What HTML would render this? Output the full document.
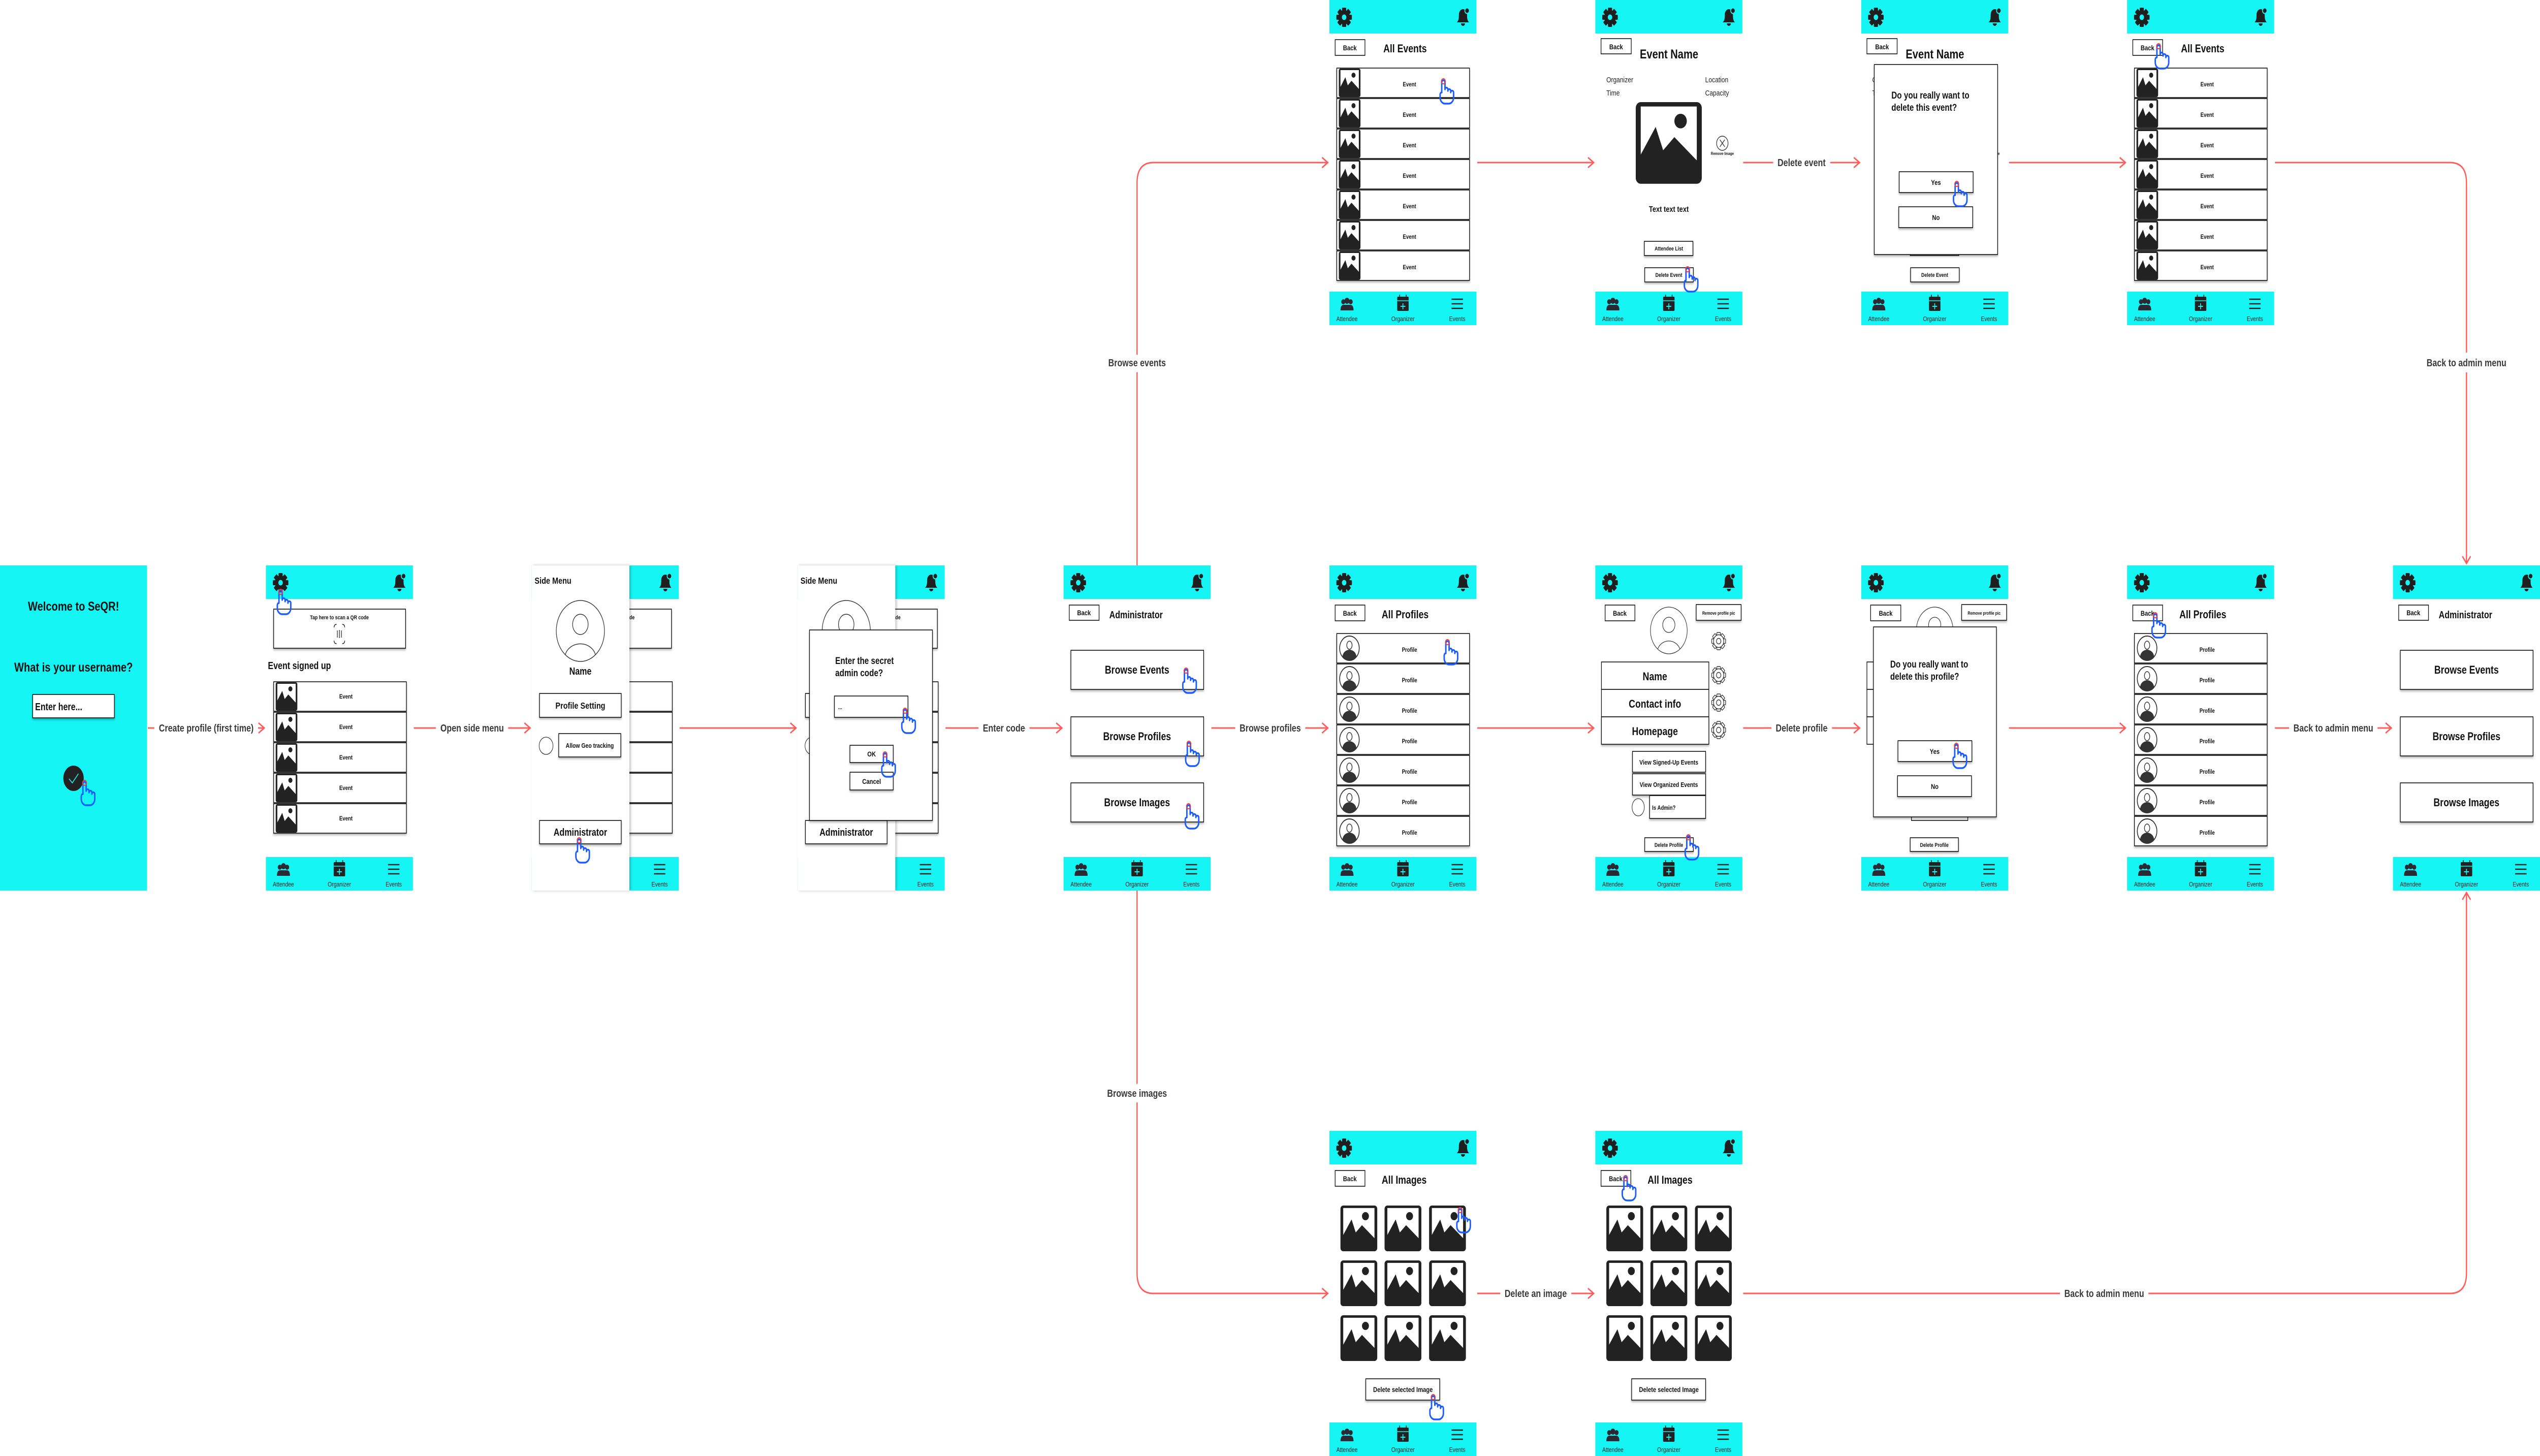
<!DOCTYPE html>
<html><head><meta charset="utf-8"><style>
html,body{margin:0;padding:0;background:#fff;width:100%;height:100%;overflow:hidden;}
svg{display:block;width:100vw;height:100vh;}
.t{font-family:"Liberation Sans",Arial,sans-serif;font-weight:bold;fill:#111;}
.r{font-family:"Liberation Sans",Arial,sans-serif;fill:#222;}
.m{text-anchor:middle;}
.c{font-family:"Liberation Sans",Arial,sans-serif;font-weight:bold;font-size:20px;fill:#3a3a3a;text-anchor:middle;stroke:#fff;stroke-width:24px;paint-order:stroke;stroke-linejoin:round;}
.ln{fill:none;stroke:#ff5c5c;stroke-width:3;}
.bx{fill:#fff;stroke:#111;stroke-width:1.6;}
</style></head><body>
<svg viewBox="0 0 6219 2866" preserveAspectRatio="none" xmlns="http://www.w3.org/2000/svg">
<defs>
<filter id="sh" x="-10%" y="-10%" width="120%" height="140%"><feDropShadow dx="0" dy="3" stdDeviation="2" flood-color="#000" flood-opacity="0.3"/></filter>
<filter id="shr" x="-10%" y="-5%" width="130%" height="110%"><feDropShadow dx="3" dy="0" stdDeviation="3" flood-color="#000" flood-opacity="0.25"/></filter>
<g id="gear"><g fill="#1f1f1f"><circle r="14"/><rect x="-5" y="-19" width="10" height="9" rx="1.5"/><rect x="-5" y="-19" width="10" height="9" rx="1.5" transform="rotate(45)"/><rect x="-5" y="-19" width="10" height="9" rx="1.5" transform="rotate(90)"/><rect x="-5" y="-19" width="10" height="9" rx="1.5" transform="rotate(135)"/><rect x="-5" y="-19" width="10" height="9" rx="1.5" transform="rotate(180)"/><rect x="-5" y="-19" width="10" height="9" rx="1.5" transform="rotate(225)"/><rect x="-5" y="-19" width="10" height="9" rx="1.5" transform="rotate(270)"/><rect x="-5" y="-19" width="10" height="9" rx="1.5" transform="rotate(315)"/></g><circle r="5.5" fill="#15f5f4"/></g>
<g id="gearO" fill="#fff" stroke="#333" stroke-width="1.5"><rect x="-4.5" y="-17" width="9" height="8" rx="1.5"/><rect x="-4.5" y="-17" width="9" height="8" rx="1.5" transform="rotate(45)"/><rect x="-4.5" y="-17" width="9" height="8" rx="1.5" transform="rotate(90)"/><rect x="-4.5" y="-17" width="9" height="8" rx="1.5" transform="rotate(135)"/><rect x="-4.5" y="-17" width="9" height="8" rx="1.5" transform="rotate(180)"/><rect x="-4.5" y="-17" width="9" height="8" rx="1.5" transform="rotate(225)"/><rect x="-4.5" y="-17" width="9" height="8" rx="1.5" transform="rotate(270)"/><rect x="-4.5" y="-17" width="9" height="8" rx="1.5" transform="rotate(315)"/><circle r="12.5"/><circle r="5.5"/></g>
<g id="bell" fill="#1f1f1f"><path d="M-15,11 C-10,7 -10,2 -10,-4 C-10,-11 -5,-15 0,-15 C5,-15 10,-11 10,-4 C10,2 10,7 15,11 Z"/><path d="M-5,13 A5,5 0 0 0 5,13 Z"/><circle cx="10" cy="-12" r="5.5" stroke="#15f5f4" stroke-width="2"/></g>
<g id="chrome"><rect x="0" y="0" width="360" height="66" fill="#15f5f4"/><use href="#gear" x="36" y="34"/><use href="#bell" x="327" y="33"/>
<rect x="0" y="574" width="360" height="66" fill="#15f5f4"/>
<g transform="translate(43,601)" fill="#2a2a35"><circle cx="-9" cy="-7" r="5"/><circle cx="9" cy="-7" r="5"/><circle cx="0" cy="-9" r="6"/><path d="M-16,10 Q-16,-1 -8,-1 H8 Q16,-1 16,10 Z"/></g>
<g transform="translate(180,598)"><line x1="-8" y1="-18" x2="-8" y2="-12" stroke="#222" stroke-width="2"/><line x1="8" y1="-18" x2="8" y2="-12" stroke="#222" stroke-width="2"/><rect x="-14" y="-14" width="28" height="28" rx="2" fill="#222"/><line x1="-14" y1="-6" x2="14" y2="-6" stroke="#15f5f4" stroke-width="1.5"/><path d="M0,-1 V11 M-6,5 H6" stroke="#15f5f4" stroke-width="2"/></g>
<g transform="translate(313,598)" stroke="#222" stroke-width="2.5"><line x1="-14" y1="-9" x2="14" y2="-9"/><line x1="-14" y1="0" x2="14" y2="0"/><line x1="-14" y1="9" x2="14" y2="9"/></g></g>
<g id="thumb"><rect width="53" height="56" rx="4" fill="#222"/><path d="M4,3 H49 V40 L31,24 L22,33 L16,17 L4,36 Z" fill="#fff"/><circle cx="36" cy="13" r="5" fill="#222"/></g>
<g id="row"><rect x="0" y="0" width="325" height="58" class="bx" stroke-width="2" filter="url(#sh)"/><use href="#thumb" x="5" y="1"/></g>
<g id="av"><circle r="24" fill="#fff" stroke="#333" stroke-width="2"/><ellipse cy="-6" rx="6.5" ry="8" fill="none" stroke="#333" stroke-width="1.6"/><path d="M-17,17 A17,14 0 0 1 17,17 A24,24 0 0 1 -17,17 Z" fill="#333"/></g>
<g id="prow"><rect x="0" y="0" width="325" height="58" class="bx" stroke-width="2" filter="url(#sh)"/><use href="#av" x="31" y="29"/></g>
<g id="tile"><use href="#thumb" transform="scale(1.7,1.607)"/></g>
<g id="hand"><path d="M-4,24 V4 A4,4 0 0 1 4,4 V18 A3.5,3.5 0 0 1 11,18 V21 A3.5,3.5 0 0 1 18,21 V24 A3.5,3.5 0 0 1 25,24 V34 A12,12 0 0 1 13,46 H4 A12,12 0 0 1 -8,34 V28 A4,4 0 0 1 -4,24 Z" fill="none" stroke="#1a5cff" stroke-width="3.5" stroke-linejoin="round"/><circle cx="0" cy="2" r="5" fill="none" stroke="#ff3b30" stroke-width="2"/></g>
<g id="bigav" fill="none" stroke="#333" stroke-width="1.5"><ellipse cx="0" cy="0" rx="59" ry="60" fill="#fff"/><ellipse cx="0" cy="-13" rx="19" ry="20"/><path d="M-37,47 A38,28 0 0 1 37,47"/></g>
</defs>

<g>
<path class="ln" d="M362,1433 H647 M633,1423 L647,1433 L633,1443"/>
<text class="c" x="505" y="1440">Create profile (first time)</text>
<path class="ln" d="M1013,1433 H1298 M1284,1423 L1298,1433 L1284,1443"/>
<text class="c" x="1156" y="1440">Open side menu</text>
<path class="ln" d="M1664,1433 H1949 M1935,1423 L1949,1433 L1935,1443"/>
<path class="ln" d="M2315,1433 H2600 M2586,1423 L2600,1433 L2586,1443"/>
<text class="c" x="2458" y="1440">Enter code</text>
<path class="ln" d="M2966,1433 H3251 M3237,1423 L3251,1433 L3237,1443"/>
<text class="c" x="3110" y="1440">Browse profiles</text>
<path class="ln" d="M3617,1433 H3902 M3888,1423 L3902,1433 L3888,1443"/>
<path class="ln" d="M4268,1433 H4553 M4539,1423 L4553,1433 L4539,1443"/>
<text class="c" x="4411" y="1440">Delete profile</text>
<path class="ln" d="M4919,1433 H5204 M5190,1423 L5204,1433 L5190,1443"/>
<path class="ln" d="M5570,1433 H5855 M5841,1423 L5855,1433 L5841,1443"/>
<text class="c" x="5713" y="1440">Back to admin menu</text>
<path class="ln" d="M3617,320 H3902 M3888,310 L3902,320 L3888,330"/>
<path class="ln" d="M4268,320 H4553 M4539,310 L4553,320 L4539,330"/>
<text class="c" x="4411" y="327">Delete event</text>
<path class="ln" d="M4919,320 H5204 M5190,310 L5204,320 L5190,330"/>
<path class="ln" d="M3617,2546 H3902 M3888,2536 L3902,2546 L3888,2556"/>
<text class="c" x="3760" y="2553">Delete an image</text>
<path class="ln" d="M2784,1113 V360 Q2784,320 2824,320 H3251 M3237,310 L3251,320 L3237,330"/>
<text class="c" x="2784" y="721">Browse events</text>
<path class="ln" d="M2784,1753 V2506 Q2784,2546 2824,2546 H3251 M3237,2536 L3251,2546 L3237,2556"/>
<text class="c" x="2784" y="2159">Browse images</text>
<path class="ln" d="M5570,320 H5999 Q6039,320 6039,360 V1109 M6029,1095 L6039,1109 L6049,1095"/>
<text class="c" x="6039" y="721">Back to admin menu</text>
<path class="ln" d="M4268,2546 H5999 Q6039,2546 6039,2506 V1757 M6029,1771 L6039,1757 L6049,1771"/>
<text class="c" x="5152" y="2553">Back to admin menu</text>
</g>

<g transform="translate(0,1113)">
<rect width="360" height="640" fill="#15f5f4"/>
<text class="t m" x="180" y="89" font-size="25">Welcome to SeQR!</text>
<text class="t m" x="180" y="209" font-size="25">What is your username?</text>
<rect x="80" y="254" width="200" height="46" class="bx" filter="url(#sh)"/>
<text class="t" x="86" y="285" font-size="20">Enter here...</text>
<circle cx="180" cy="419" r="25" fill="#222"/>
<path d="M169,420 L177,428 L192,410" fill="none" stroke="#15f5f4" stroke-width="1.8"/>
</g>

<g transform="translate(651,1113)">
<use href="#chrome"/>
<rect x="19" y="86" width="323" height="77" class="bx" filter="url(#sh)"/>
<text class="t m" x="180" y="106" font-size="11">Tap here to scan a QR code</text>
<g fill="none" stroke="#222" stroke-width="1.5"><path d="M167,122 Q167,116 173,116 M187,116 Q193,116 193,122 M193,148 Q193,154 187,154 M173,154 Q167,154 167,148"/><path d="M175,128 V142 M180,127 V143 M185,128 V142"/></g>
<text class="t" x="5" y="204" font-size="20">Event signed up</text>
<use href="#row" x="19" y="229"/><use href="#row" x="19" y="289"/><use href="#row" x="19" y="349"/><use href="#row" x="19" y="409"/><use href="#row" x="19" y="469"/>
<text class="t m" x="196" y="262" font-size="12">Event</text><text class="t m" x="196" y="322" font-size="12">Event</text><text class="t m" x="196" y="382" font-size="12">Event</text><text class="t m" x="196" y="442" font-size="12">Event</text><text class="t m" x="196" y="502" font-size="12">Event</text>
<text class="r m" x="43" y="632" font-size="13">Attendee</text><text class="r m" x="180" y="632" font-size="13">Organizer</text><text class="r m" x="313" y="632" font-size="13">Events</text>
</g>

<g transform="translate(1302,1113)">
<use href="#chrome"/>
<rect x="19" y="86" width="323" height="77" class="bx" filter="url(#sh)"/>
<text class="t m" x="180" y="106" font-size="11">Tap here to scan a QR code</text>
<use href="#row" x="19" y="229"/><use href="#row" x="19" y="289"/><use href="#row" x="19" y="349"/><use href="#row" x="19" y="409"/><use href="#row" x="19" y="469"/>
<text class="r m" x="313" y="632" font-size="13">Events</text>
<rect x="0" y="0" width="239" height="640" fill="#fff" filter="url(#shr)"/>
<text class="t" x="7" y="36" font-size="18">Side Menu</text>
<use href="#bigav" x="119" y="129"/>
<text class="t m" x="119" y="215" font-size="20">Name</text>
<rect x="19" y="252" width="200" height="47" class="bx" filter="url(#sh)"/>
<text class="t m" x="119" y="282" font-size="18">Profile Setting</text>
<ellipse cx="35" cy="355" rx="17" ry="17" fill="#fff" stroke="#333" stroke-width="1.3"/>
<rect x="66" y="331" width="152" height="46" class="bx" filter="url(#sh)"/>
<text class="t m" x="142" y="359" font-size="13">Allow Geo tracking</text>
<rect x="19" y="502" width="200" height="46" class="bx" filter="url(#sh)"/>
<text class="t m" x="119" y="532" font-size="20">Administrator</text>
</g>

<g transform="translate(1953,1113)">
<use href="#chrome"/>
<rect x="19" y="86" width="323" height="77" class="bx" filter="url(#sh)"/>
<text class="t m" x="180" y="106" font-size="11">Tap here to scan a QR code</text>
<use href="#row" x="19" y="229"/><use href="#row" x="19" y="289"/><use href="#row" x="19" y="349"/><use href="#row" x="19" y="409"/><use href="#row" x="19" y="469"/>
<text class="r m" x="313" y="632" font-size="13">Events</text>
<rect x="0" y="0" width="239" height="640" fill="#fff" filter="url(#shr)"/>
<text class="t" x="7" y="36" font-size="18">Side Menu</text>
<use href="#bigav" x="119" y="129"/>
<rect x="19" y="252" width="200" height="47" class="bx" filter="url(#sh)"/>
<ellipse cx="35" cy="355" rx="17" ry="17" fill="#fff" stroke="#333" stroke-width="1.3"/>
<rect x="19" y="502" width="200" height="46" class="bx" filter="url(#sh)"/>
<text class="t m" x="119" y="532" font-size="20">Administrator</text>
<rect x="29" y="127" width="301" height="375" class="bx" filter="url(#sh)"/>
<text class="t" x="92" y="194" font-size="19">Enter the secret</text>
<text class="t" x="92" y="218" font-size="19">admin code?</text>
<rect x="90" y="257" width="180" height="42" class="bx" filter="url(#sh)"/>
<text class="t" x="99" y="283" font-size="12">...</text>
<rect x="128" y="354" width="106" height="34" class="bx" filter="url(#sh)"/>
<text class="t m" x="181" y="376" font-size="14">OK</text>
<rect x="128" y="407" width="106" height="35" class="bx" filter="url(#sh)"/>
<text class="t m" x="181" y="430" font-size="14">Cancel</text>
</g>

<g transform="translate(2604,1113)">
<use href="#chrome"/>
<rect x="14" y="78" width="73" height="30" class="bx"/>
<text class="t m" x="50" y="98" font-size="14">Back</text>
<text class="t" x="112" y="104" font-size="20">Administrator</text>
<rect x="18" y="167" width="325" height="77" class="bx" filter="url(#sh)"/><text class="t m" x="180" y="213" font-size="22">Browse Events</text>
<rect x="18" y="298" width="325" height="77" class="bx" filter="url(#sh)"/><text class="t m" x="180" y="344" font-size="22">Browse Profiles</text>
<rect x="18" y="428" width="325" height="77" class="bx" filter="url(#sh)"/><text class="t m" x="180" y="474" font-size="22">Browse Images</text>
<text class="r m" x="43" y="632" font-size="13">Attendee</text><text class="r m" x="180" y="632" font-size="13">Organizer</text><text class="r m" x="313" y="632" font-size="13">Events</text>
</g>
<g transform="translate(5859,1113)">
<use href="#chrome"/>
<rect x="14" y="78" width="73" height="30" class="bx"/>
<text class="t m" x="50" y="98" font-size="14">Back</text>
<text class="t" x="112" y="104" font-size="20">Administrator</text>
<rect x="18" y="167" width="325" height="77" class="bx" filter="url(#sh)"/><text class="t m" x="180" y="213" font-size="22">Browse Events</text>
<rect x="18" y="298" width="325" height="77" class="bx" filter="url(#sh)"/><text class="t m" x="180" y="344" font-size="22">Browse Profiles</text>
<rect x="18" y="428" width="325" height="77" class="bx" filter="url(#sh)"/><text class="t m" x="180" y="474" font-size="22">Browse Images</text>
<text class="r m" x="43" y="632" font-size="13">Attendee</text><text class="r m" x="180" y="632" font-size="13">Organizer</text><text class="r m" x="313" y="632" font-size="13">Events</text>
</g>

<g transform="translate(3255,0)">
<use href="#chrome"/>
<rect x="14" y="78" width="73" height="31" class="bx"/>
<text class="t m" x="50" y="99" font-size="14">Back</text>
<text class="t" x="132" y="103" font-size="22">All Events</text>
<use href="#row" x="18" y="134"/><use href="#row" x="18" y="194"/><use href="#row" x="18" y="254"/><use href="#row" x="18" y="314"/><use href="#row" x="18" y="374"/><use href="#row" x="18" y="434"/><use href="#row" x="18" y="494"/>
<text class="t m" x="196" y="170" font-size="12">Event</text><text class="t m" x="196" y="230" font-size="12">Event</text><text class="t m" x="196" y="290" font-size="12">Event</text><text class="t m" x="196" y="350" font-size="12">Event</text><text class="t m" x="196" y="410" font-size="12">Event</text><text class="t m" x="196" y="470" font-size="12">Event</text><text class="t m" x="196" y="530" font-size="12">Event</text>
<text class="r m" x="43" y="632" font-size="13">Attendee</text><text class="r m" x="180" y="632" font-size="13">Organizer</text><text class="r m" x="313" y="632" font-size="13">Events</text>
</g>
<g transform="translate(5208,0)">
<use href="#chrome"/>
<rect x="14" y="78" width="73" height="31" class="bx"/>
<text class="t m" x="50" y="99" font-size="14">Back</text>
<text class="t" x="132" y="103" font-size="22">All Events</text>
<use href="#row" x="18" y="134"/><use href="#row" x="18" y="194"/><use href="#row" x="18" y="254"/><use href="#row" x="18" y="314"/><use href="#row" x="18" y="374"/><use href="#row" x="18" y="434"/><use href="#row" x="18" y="494"/>
<text class="t m" x="196" y="170" font-size="12">Event</text><text class="t m" x="196" y="230" font-size="12">Event</text><text class="t m" x="196" y="290" font-size="12">Event</text><text class="t m" x="196" y="350" font-size="12">Event</text><text class="t m" x="196" y="410" font-size="12">Event</text><text class="t m" x="196" y="470" font-size="12">Event</text><text class="t m" x="196" y="530" font-size="12">Event</text>
<text class="r m" x="43" y="632" font-size="13">Attendee</text><text class="r m" x="180" y="632" font-size="13">Organizer</text><text class="r m" x="313" y="632" font-size="13">Events</text>
</g>

<g transform="translate(3906,0)">
<use href="#chrome"/>
<rect x="14" y="76" width="74" height="30" class="bx"/>
<text class="t m" x="51" y="97" font-size="14">Back</text>
<text class="t" x="109" y="115" font-size="25">Event Name</text>
<text class="r" x="27" y="162" font-size="15">Organizer</text><text class="r" x="27" y="188" font-size="15">Time</text>
<text class="r" x="269" y="162" font-size="15">Location</text><text class="r" x="269" y="188" font-size="15">Capacity</text>
<use href="#thumb" transform="translate(99,201) scale(3.05,2.87)"/>
<circle cx="311" cy="282" r="14" fill="#fff" stroke="#333" stroke-width="1.5"/>
<path d="M305,275 L317,289 M317,275 L305,289" stroke="#333" stroke-width="1.5"/>
<text class="t m" x="311" y="305" font-size="8">Remove Image</text>
<text class="t m" x="180" y="417" font-size="16">Text text text</text>
<rect x="120" y="475" width="119" height="28" class="bx" filter="url(#sh)"/><text class="t m" x="180" y="493" font-size="11">Attendee List</text>
<rect x="121" y="527" width="119" height="28" class="bx" filter="url(#sh)"/><text class="t m" x="180" y="545" font-size="11">Delete Event</text>
<text class="r m" x="43" y="632" font-size="13">Attendee</text><text class="r m" x="180" y="632" font-size="13">Organizer</text><text class="r m" x="313" y="632" font-size="13">Events</text>
</g>

<g transform="translate(4557,0)">
<use href="#chrome"/>
<rect x="14" y="76" width="74" height="30" class="bx"/>
<text class="t m" x="51" y="97" font-size="14">Back</text>
<text class="t" x="109" y="115" font-size="25">Event Name</text>
<text class="r" x="27" y="162" font-size="15">Organizer</text><text class="r" x="27" y="188" font-size="15">Time</text>
<text class="t m" x="311" y="305" font-size="8">Remove Image</text>
<rect x="120" y="475" width="119" height="28" class="bx" fill="#222"/>
<rect x="121" y="527" width="119" height="28" class="bx" filter="url(#sh)"/><text class="t m" x="180" y="545" font-size="11">Delete Event</text>
<rect x="32" y="127" width="302" height="374" class="bx" filter="url(#sh)"/>
<text class="t" x="74" y="194" font-size="19">Do you really want to</text>
<text class="t" x="74" y="218" font-size="19">delete this event?</text>
<rect x="93" y="338" width="181" height="41" class="bx" filter="url(#sh)"/><text class="t m" x="183" y="364" font-size="14">Yes</text>
<rect x="92" y="407" width="181" height="41" class="bx" filter="url(#sh)"/><text class="t m" x="183" y="433" font-size="14">No</text>
<text class="r m" x="43" y="632" font-size="13">Attendee</text><text class="r m" x="180" y="632" font-size="13">Organizer</text><text class="r m" x="313" y="632" font-size="13">Events</text>
</g>

<g transform="translate(3255,1113)">
<use href="#chrome"/>
<rect x="14" y="78" width="73" height="31" class="bx"/>
<text class="t m" x="50" y="99" font-size="14">Back</text>
<text class="t" x="128" y="104" font-size="22">All Profiles</text>
<use href="#prow" x="18" y="134"/><use href="#prow" x="18" y="194"/><use href="#prow" x="18" y="254"/><use href="#prow" x="18" y="314"/><use href="#prow" x="18" y="374"/><use href="#prow" x="18" y="434"/><use href="#prow" x="18" y="494"/>
<text class="t m" x="196" y="170" font-size="12">Profile</text><text class="t m" x="196" y="230" font-size="12">Profile</text><text class="t m" x="196" y="290" font-size="12">Profile</text><text class="t m" x="196" y="350" font-size="12">Profile</text><text class="t m" x="196" y="410" font-size="12">Profile</text><text class="t m" x="196" y="470" font-size="12">Profile</text><text class="t m" x="196" y="530" font-size="12">Profile</text>
<text class="r m" x="43" y="632" font-size="13">Attendee</text><text class="r m" x="180" y="632" font-size="13">Organizer</text><text class="r m" x="313" y="632" font-size="13">Events</text>
</g>
<g transform="translate(5208,1113)">
<use href="#chrome"/>
<rect x="14" y="78" width="73" height="31" class="bx"/>
<text class="t m" x="50" y="99" font-size="14">Back</text>
<text class="t" x="128" y="104" font-size="22">All Profiles</text>
<use href="#prow" x="18" y="134"/><use href="#prow" x="18" y="194"/><use href="#prow" x="18" y="254"/><use href="#prow" x="18" y="314"/><use href="#prow" x="18" y="374"/><use href="#prow" x="18" y="434"/><use href="#prow" x="18" y="494"/>
<text class="t m" x="196" y="170" font-size="12">Profile</text><text class="t m" x="196" y="230" font-size="12">Profile</text><text class="t m" x="196" y="290" font-size="12">Profile</text><text class="t m" x="196" y="350" font-size="12">Profile</text><text class="t m" x="196" y="410" font-size="12">Profile</text><text class="t m" x="196" y="470" font-size="12">Profile</text><text class="t m" x="196" y="530" font-size="12">Profile</text>
<text class="r m" x="43" y="632" font-size="13">Attendee</text><text class="r m" x="180" y="632" font-size="13">Organizer</text><text class="r m" x="313" y="632" font-size="13">Events</text>
</g>

<g transform="translate(3906,1113)">
<use href="#chrome"/>
<rect x="24" y="78" width="73" height="31" class="bx"/>
<text class="t m" x="60" y="99" font-size="14">Back</text>
<g fill="none" stroke="#333" stroke-width="1.3"><ellipse cx="180" cy="128" rx="45" ry="46" fill="#fff"/><ellipse cx="180" cy="117" rx="15" ry="15"/><path d="M153,164 A29,24 0 0 1 207,164"/></g>
<rect x="247" y="77" width="110" height="31" class="bx" filter="url(#sh)"/><text class="t m" x="302" y="97" font-size="9">Remove profile pic</text>
<use href="#gearO" x="302" y="149"/><use href="#gearO" x="302" y="216"/><use href="#gearO" x="302" y="270"/><use href="#gearO" x="302" y="324"/>
<rect x="15" y="190" width="263" height="54" class="bx" stroke-width="2"/><text class="t m" x="146" y="226" font-size="22">Name</text>
<rect x="15" y="244" width="263" height="54" class="bx" stroke-width="2"/><text class="t m" x="146" y="280" font-size="22">Contact info</text>
<rect x="15" y="298" width="263" height="54" class="bx" stroke-width="2" filter="url(#sh)"/><text class="t m" x="146" y="334" font-size="22">Homepage</text>
<rect x="91" y="366" width="179" height="41" class="bx" filter="url(#sh)"/><text class="t m" x="180" y="392" font-size="13">View Signed-Up Events</text>
<rect x="91" y="410" width="179" height="42" class="bx" filter="url(#sh)"/><text class="t m" x="180" y="436" font-size="13">View Organized Events</text>
<ellipse cx="105" cy="476" rx="15" ry="17" fill="#fff" stroke="#333" stroke-width="1.3"/>
<rect x="133" y="453" width="137" height="45" class="bx" filter="url(#sh)"/><text class="t" x="139" y="481" font-size="12">Is Admin?</text>
<rect x="121" y="536" width="119" height="27" class="bx" filter="url(#sh)"/><text class="t m" x="180" y="554" font-size="11">Delete Profile</text>
<text class="r m" x="43" y="632" font-size="13">Attendee</text><text class="r m" x="180" y="632" font-size="13">Organizer</text><text class="r m" x="313" y="632" font-size="13">Events</text>
</g>

<g transform="translate(4557,1113)">
<use href="#chrome"/>
<rect x="23" y="78" width="74" height="31" class="bx"/>
<text class="t m" x="60" y="99" font-size="14">Back</text>
<g fill="none" stroke="#333" stroke-width="1.3"><ellipse cx="180" cy="128" rx="45" ry="46" fill="#fff"/><ellipse cx="180" cy="117" rx="15" ry="15"/></g>
<rect x="246" y="77" width="110" height="31" class="bx" filter="url(#sh)"/><text class="t m" x="301" y="97" font-size="9">Remove profile pic</text>
<rect x="14" y="190" width="263" height="54" class="bx" stroke-width="2"/>
<rect x="14" y="244" width="263" height="54" class="bx" stroke-width="2"/>
<rect x="14" y="298" width="263" height="54" class="bx" stroke-width="2"/>
<rect x="120" y="536" width="118" height="27" class="bx" filter="url(#sh)"/><text class="t m" x="179" y="554" font-size="11">Delete Profile</text>
<rect x="123" y="490" width="138" height="12" class="bx"/>
<rect x="30" y="121" width="301" height="374" class="bx" filter="url(#sh)"/>
<text class="t" x="71" y="201" font-size="19">Do you really want to</text>
<text class="t" x="71" y="225" font-size="19">delete this profile?</text>
<rect x="90" y="345" width="181" height="41" class="bx" filter="url(#sh)"/><text class="t m" x="180" y="371" font-size="14">Yes</text>
<rect x="89" y="414" width="181" height="41" class="bx" filter="url(#sh)"/><text class="t m" x="180" y="440" font-size="14">No</text>
<text class="r m" x="43" y="632" font-size="13">Attendee</text><text class="r m" x="180" y="632" font-size="13">Organizer</text><text class="r m" x="313" y="632" font-size="13">Events</text>
</g>

<g transform="translate(3255,2226)">
<use href="#chrome"/>
<rect x="14" y="78" width="73" height="31" class="bx"/>
<text class="t m" x="50" y="99" font-size="14">Back</text>
<text class="t" x="128" y="104" font-size="22">All Images</text>
<use href="#tile" x="27" y="147"/><use href="#tile" x="135" y="147"/><use href="#tile" x="244" y="147"/>
<use href="#tile" x="27" y="255"/><use href="#tile" x="135" y="255"/><use href="#tile" x="244" y="255"/>
<use href="#tile" x="27" y="363"/><use href="#tile" x="135" y="363"/><use href="#tile" x="244" y="363"/>
<rect x="89" y="488" width="181" height="42" class="bx" filter="url(#sh)"/><text class="t m" x="180" y="514" font-size="14">Delete selected Image</text>
<text class="r m" x="43" y="632" font-size="13">Attendee</text><text class="r m" x="180" y="632" font-size="13">Organizer</text><text class="r m" x="313" y="632" font-size="13">Events</text>
</g>
<g transform="translate(3906,2226)">
<use href="#chrome"/>
<rect x="14" y="78" width="73" height="31" class="bx"/>
<text class="t m" x="50" y="99" font-size="14">Back</text>
<text class="t" x="128" y="104" font-size="22">All Images</text>
<use href="#tile" x="27" y="147"/><use href="#tile" x="135" y="147"/><use href="#tile" x="244" y="147"/>
<use href="#tile" x="27" y="255"/><use href="#tile" x="135" y="255"/><use href="#tile" x="244" y="255"/>
<use href="#tile" x="27" y="363"/><use href="#tile" x="135" y="363"/><use href="#tile" x="244" y="363"/>
<rect x="89" y="488" width="181" height="42" class="bx" filter="url(#sh)"/><text class="t m" x="180" y="514" font-size="14">Delete selected Image</text>
<text class="r m" x="43" y="632" font-size="13">Attendee</text><text class="r m" x="180" y="632" font-size="13">Organizer</text><text class="r m" x="313" y="632" font-size="13">Events</text>
</g>

<use href="#hand" x="207" y="1539"/>
<use href="#hand" x="687" y="1163"/>
<use href="#hand" x="1418" y="1652"/>
<use href="#hand" x="2216" y="1397"/>
<use href="#hand" x="2167" y="1483"/>
<use href="#hand" x="2904" y="1318"/>
<use href="#hand" x="2911" y="1462"/>
<use href="#hand" x="2910" y="1585"/>
<use href="#hand" x="3534" y="158"/>
<use href="#hand" x="4132" y="528"/>
<use href="#hand" x="4791" y="360"/>
<use href="#hand" x="5285" y="89"/>
<use href="#hand" x="3544" y="1262"/>
<use href="#hand" x="4134" y="1646"/>
<use href="#hand" x="4790" y="1466"/>
<use href="#hand" x="5277" y="1209"/>
<use href="#hand" x="3575" y="2380"/>
<use href="#hand" x="3509" y="2748"/>
<use href="#hand" x="3980" y="2317"/>
</svg>
</body></html>
